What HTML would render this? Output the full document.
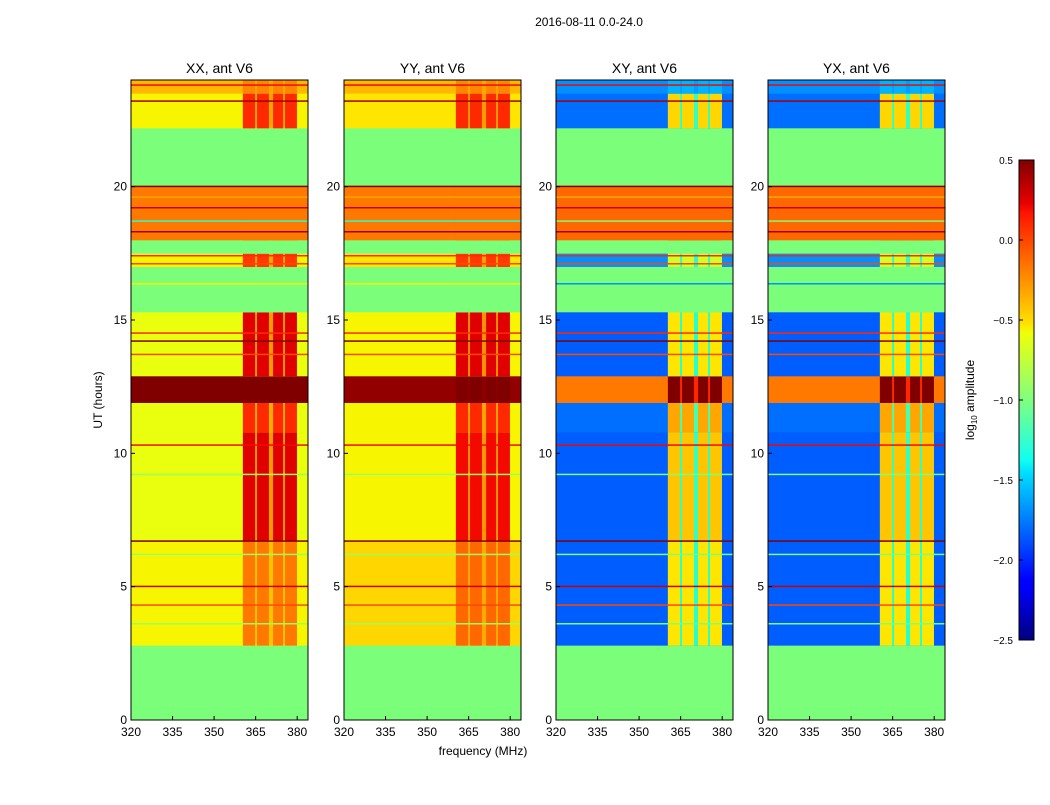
<!DOCTYPE html>
<html><head><meta charset="utf-8"><style>
body{margin:0;background:#fff;}
svg text{font-family:"Liberation Sans",sans-serif;fill:#000;}
</style></head><body>
<svg id="chart" width="1050" height="800" viewBox="0 0 1050 800" xmlns="http://www.w3.org/2000/svg">
<defs>
<linearGradient id="jet" x1="0" y1="1" x2="0" y2="0">
<stop offset="0" stop-color="#000080"/><stop offset="0.11" stop-color="#0000ff"/>
<stop offset="0.125" stop-color="#0000ff"/><stop offset="0.35" stop-color="#00e0ff"/>
<stop offset="0.375" stop-color="#10ffef"/><stop offset="0.5" stop-color="#80ff80"/>
<stop offset="0.64" stop-color="#f0ff08"/><stop offset="0.66" stop-color="#ffe000"/>
<stop offset="0.89" stop-color="#ff1400"/><stop offset="0.91" stop-color="#e80000"/>
<stop offset="1" stop-color="#800000"/>
</linearGradient>
</defs>
<text x="589" y="26" font-size="12" text-anchor="middle">2016-08-11 0.0-24.0</text>
<text x="102" y="400" font-size="12" text-anchor="middle" transform="rotate(-90 102 400)">UT (hours)</text>
<text x="483" y="755" font-size="12" text-anchor="middle">frequency (MHz)</text>
<g id="panels"></g>
<rect x="1019" y="160" width="15" height="480" fill="url(#jet)" stroke="#000" stroke-width="1"/>
<g id="cbticks"></g>
<text x="974" y="400" font-size="12" text-anchor="middle" transform="rotate(-90 974 400)">log<tspan font-size="8" dy="3">10</tspan><tspan dy="-3"> amplitude</tspan></text>
</svg>
<script>
// ---- data ----
const panelTitles = ["XX, ant V6","YY, ant V6","XY, ant V6","YX, ant V6"];
const bandStarts = [0,2.8,6.7,10.8,11.9,12.9,15.3,16.2,17.0,17.5,18.0,20.0,22.2,23.5];
const bandEnds   = [2.8,6.7,10.8,11.9,12.9,15.3,16.2,17.0,17.5,18.0,20.0,22.2,23.5,24];
const xxLow  = [-1.0,-0.55,-0.6,-0.6,0.5,-0.6,-1.0,-1.0,-0.55,-1.0,-0.15,-1.0,-0.55,-0.35];
const xxHigh = [-1.0,-0.15,0.25,0.1,0.5,0.25,-1.0,-1.0,0.05,-1.0,-0.15,-1.0,0.1,-0.2];
const yyLow  = [-1.0,-0.45,-0.55,-0.55,0.45,-0.55,-1.0,-1.0,-0.5,-1.0,-0.15,-1.0,-0.5,-0.35];
const yyHigh = [-1.0,-0.1,0.2,0.1,0.5,0.25,-1.0,-1.0,0.05,-1.0,-0.15,-1.0,0.1,-0.2];
const xyLow  = [-1.0,-1.85,-1.85,-1.8,-0.15,-1.85,-1.0,-1.0,-1.7,-1.0,-0.1,-1.0,-1.8,-1.7];
const xyHigh = [-1.0,-0.5,-0.4,-0.3,0.5,-0.5,-1.0,-1.0,-0.7,-1.0,-0.1,-1.0,-0.45,-1.6];
const yxLow  = [-1.0,-1.85,-1.85,-1.8,-0.15,-1.85,-1.0,-1.0,-1.7,-1.0,-0.1,-1.0,-1.8,-1.7];
const yxHigh = [-1.0,-0.5,-0.4,-0.3,0.5,-0.5,-1.0,-1.0,-0.7,-1.0,-0.1,-1.0,-0.45,-1.6];
const colStartMHz = [360.4,365.5,371.3,375.6];
const colEndMHz   = [364.8,369.8,374.9,379.9];
const lineHours      = [3.6,4.3,5.0,6.2,6.7,9.2,10.3,13.7,14.2,14.5,16.35,17.1,17.4,18.3,18.7,19.2,19.6,20.0,23.2,23.8];
const lineValsCo     = [-0.9,0.0,0.3,-0.9,0.5,-0.9,0.2,0.0,0.5,0.1,-0.55,0.0,0.1,0.4,-1.3,0.3,-0.3,0.5,0.4,0.2];
const lineValsCross  = [-1.0,0.0,0.3,-1.0,0.5,-1.0,0.2,0.0,0.5,0.1,-1.7,0.0,0.1,0.4,-1.0,0.3,-0.3,0.5,0.4,0.2];
const xTicks = [320,335,350,365,380];
const yTicks = [0,5,10,15,20];
const cbTicks = [0.5,0.0,-0.5,-1.0,-1.5,-2.0,-2.5];
const lowSeries = [xxLow,yyLow,xyLow,yxLow];
const highSeries = [xxHigh,yyHigh,xyHigh,yxHigh];
// ---- layout ----
const panelX = [131,344,556,768], panelW = 177, plotTop = 80, plotBottom = 720;
const fMin = 320, fMax = 383.9, tMin = 0, tMax = 24, vMin = -2.5, vMax = 0.5;
const NS = "http://www.w3.org/2000/svg";
function jet(v){
  let t=(v-vMin)/(vMax-vMin); t=Math.max(0,Math.min(1,t));
  const interp=(pts)=>{for(let i=1;i<pts.length;i++){if(t<=pts[i][0]){const a=pts[i-1],b=pts[i];return a[1]+(b[1]-a[1])*(t-a[0])/(b[0]-a[0]);}}return pts[pts.length-1][1];};
  const r=interp([[0,0],[0.35,0],[0.66,1],[0.89,1],[1,0.5]]);
  const g=interp([[0,0],[0.125,0],[0.375,1],[0.64,1],[0.91,0],[1,0]]);
  const b=interp([[0,0.5],[0.11,1],[0.34,1],[0.65,0],[1,0]]);
  return `rgb(${Math.round(r*255)},${Math.round(g*255)},${Math.round(b*255)})`;
}
function mk(tag,attrs,parent){const e=document.createElementNS(NS,tag);for(const k in attrs)e.setAttribute(k,attrs[k]);parent.appendChild(e);return e;}
const root=document.getElementById('panels');
panelTitles.forEach((title,p)=>{
  const x0=panelX[p];
  const xs=f=>x0+(f-fMin)/(fMax-fMin)*panelW;
  const ys=t=>plotBottom-(t-tMin)/(tMax-tMin)*(plotBottom-plotTop);
  const g=mk('g',{},root);
  
  
  const low=lowSeries[p], high=highSeries[p];
  for(let i=0;i<bandStarts.length;i++){
    const y1=ys(bandEnds[i]), h=ys(bandStarts[i])-y1;
    const r=mk('rect',{x:x0,y:y1,width:panelW,height:h+0.3,fill:jet(low[i])},g);
    
    
    const gapV=low[i]*0.6+high[i]*0.4;
    const gr=mk('rect',{x:xs(colStartMHz[0]),y:y1,width:xs(colEndMHz[3])-xs(colStartMHz[0]),height:h+0.3,fill:jet(gapV)},g);
    
    
    for(let c=0;c<colStartMHz.length;c++){
      const cr=mk('rect',{x:xs(colStartMHz[c]),y:y1,width:xs(colEndMHz[c])-xs(colStartMHz[c]),height:h+0.3,fill:jet(high[i])},g);
      
      
    }
  }
  const lv = p>=2 ? lineValsCross : lineValsCo;
  lineHours.forEach((hr,i)=>{
    const l=mk('rect',{x:x0,y:ys(hr)-1,width:panelW,height:1.5,fill:jet(lv[i])},g);
    
    
  });
  const fr=mk('rect',{x:x0,y:plotTop,width:panelW,height:plotBottom-plotTop,fill:'none',stroke:'#000','stroke-width':1},g);
  
  
  const tt=mk('text',{x:x0+panelW/2,y:73,'font-size':14,'text-anchor':'middle'},g);tt.textContent=title;
  
  
  xTicks.forEach(f=>{
    const t=mk('text',{x:xs(f),y:736,'font-size':12,'text-anchor':'middle'},g);t.textContent=f;
    
    
    mk('line',{x1:xs(f),x2:xs(f),y1:plotBottom,y2:plotBottom-4,stroke:'#000'},g);
  });
  yTicks.forEach(h=>{
    const t=mk('text',{x:x0-4,y:ys(h)+4,'font-size':12,'text-anchor':'end'},g);t.textContent=h;
    
    
    mk('line',{x1:x0,x2:x0+4,y1:ys(h),y2:ys(h),stroke:'#000'},g);
  });
});
const cbg=document.getElementById('cbticks');
cbTicks.forEach(v=>{
  const y=640-(v-vMin)/(vMax-vMin)*480;
  const t=mk('text',{x:1013,y:y+4,'font-size':10,'text-anchor':'end'},cbg);
  t.textContent=(v<0?'\u2212':'')+Math.abs(v).toFixed(1);
  
  
  mk('line',{x1:1019,x2:1023,y1:y,y2:y,stroke:'#000'},cbg);
});
</script>
</body></html>
